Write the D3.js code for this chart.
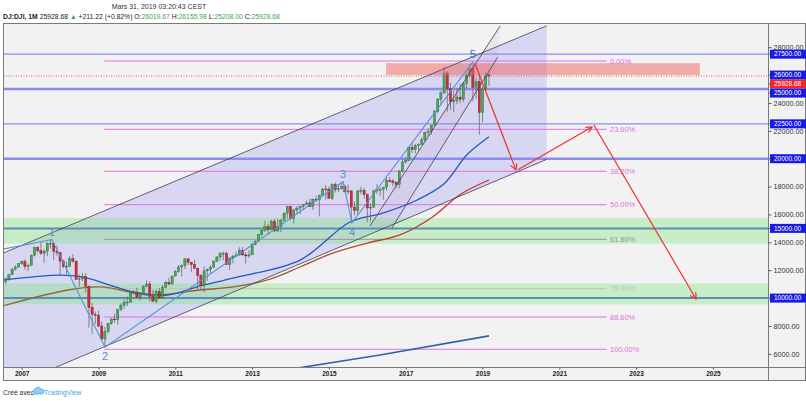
<!DOCTYPE html>
<html>
<head>
<meta charset="utf-8">
<script src="https://cdn.jsdelivr.net/npm/d3@7"></script>
<style>
  body { margin: 0; background: #fff; }
  svg { display: block; font-family: "Liberation Sans", Arial, sans-serif; }
</style>
</head>
<body>
<svg id="chart"></svg>
<script>
// DJ:DJI monthly candles, Jul 2006 .. Mar 2019
var firstBar = 2006.5;
var opens = [
  11150, 11186, 11381, 11679, 12081, 12222,
  12463, 12622, 12269, 12354, 13063, 13628, 13409, 13212, 13358, 13896, 13930, 13372,
  13265, 12650, 12266, 12263, 12820, 12638, 11350, 11378, 11544, 10851, 9325, 8829,
  8776, 8001, 7063, 7609, 8168, 8500, 8447, 9172, 9496, 9712, 9713, 10345,
  10428, 10067, 10325, 10857, 11009, 10137, 9774, 10466, 10015, 10788, 11118, 11006,
  11578, 11892, 12226, 12320, 12811, 12570, 12414, 12143, 11614, 10913, 11955, 12046,
  12218, 12633, 12952, 13212, 13214, 12393, 12880, 13009, 13091, 13437, 13096, 13026,
  13104, 13861, 14054, 14579, 14840, 15116, 14910, 15500, 14810, 15130, 15546, 16086,
  16577, 15699, 16322, 16458, 16581, 16717, 16827, 16563, 17098, 17043, 17391, 17828,
  17823, 17165, 18133, 17776, 17841, 18011, 17620, 17690, 16528, 16285, 17664, 17720,
  17425, 16466, 16517, 17685, 17774, 17787, 17930, 18432, 18401, 18308, 18142, 19124,
  19763, 19864, 20812, 20663, 20941, 21009, 21350, 21891, 21948, 22405, 23377, 24272,
  24719, 26149, 25029, 24103, 24163, 24416, 24271, 25415, 25965, 26458, 25116, 25538,
  23327, 24999, 26019.67
];
var highs = [
  11260, 11460, 11730, 12160, 12360, 12530,
  12700, 12790, 12480, 13140, 13690, 13700, 14020, 13500, 14000, 14198, 13970, 13780,
  13280, 12770, 12620, 13010, 13140, 12720, 11700, 11810, 11790, 10880, 9650, 9030,
  9090, 8320, 7930, 8220, 8580, 8880, 9190, 9630, 9920, 10120, 10410, 10580,
  10730, 10410, 10910, 11260, 11210, 10600, 10600, 10720, 10950, 11250, 11450, 11620,
  12020, 12390, 12420, 12880, 12880, 12570, 12750, 12160, 11720, 12280, 12130, 12360,
  12720, 13010, 13290, 13340, 13340, 12900, 13110, 13330, 13650, 13660, 13290, 13430,
  13970, 14150, 14590, 14890, 15540, 15340, 15630, 15660, 15710, 15720, 16170, 16590,
  16590, 16400, 16590, 16630, 16740, 16980, 17150, 17150, 17350, 17400, 17900, 18100,
  18000, 18240, 18290, 18180, 18350, 18150, 18140, 17720, 16930, 17800, 17980, 17900,
  17500, 16800, 17790, 18170, 17990, 18000, 18620, 18670, 18540, 18400, 19150, 19990,
  20130, 20850, 21170, 21070, 21110, 21530, 21930, 22180, 22420, 23490, 24330, 24880,
  26617, 26300, 25450, 24860, 25090, 25400, 25460, 26170, 26770, 26951, 25800, 25980,
  25190, 26240, 26155.98
];
var lows = [
  10700, 10990, 11250, 11650, 11990, 12180,
  12380, 12050, 11940, 12340, 12980, 13260, 13100, 12520, 13000, 13570, 12720, 13050,
  11630, 12130, 11730, 12250, 12560, 11290, 10830, 11220, 10370, 7880, 7450, 8120,
  7910, 7020, 6470, 7450, 8090, 8220, 8080, 9060, 9250, 9430, 9680, 10230,
  10030, 9840, 10300, 10800, 9770, 9770, 9610, 9940, 9940, 10710, 10930, 11000,
  11570, 11820, 11550, 12090, 12360, 11860, 12090, 10600, 10600, 10400, 11230, 11740,
  12210, 12630, 12700, 12710, 12390, 12030, 12490, 12990, 13040, 13050, 12470, 12880,
  13100, 13790, 14060, 14440, 14750, 14550, 14910, 14760, 14780, 14720, 15540, 15700,
  15620, 15340, 16020, 16020, 16330, 16680, 16560, 16330, 16910, 15860, 17380, 17070,
  17140, 17040, 17580, 17590, 17790, 17590, 17460, 15370, 15940, 16010, 17450, 17130,
  15450, 15500, 16500, 17480, 17330, 17060, 17710, 18310, 18010, 17880, 17880, 19010,
  19680, 19830, 20410, 20380, 20550, 20990, 21200, 21600, 21710, 22400, 23240, 23920,
  24660, 23360, 23510, 23340, 23930, 23990, 24080, 25040, 25800, 24120, 24270, 21712,
  22640, 24880, 25208
];
var closes = [
  11186, 11381, 11679, 12081, 12222, 12463,
  12622, 12269, 12354, 13063, 13628, 13409, 13212, 13358, 13896, 13930, 13372, 13265,
  12650, 12266, 12263, 12820, 12638, 11350, 11378, 11544, 10851, 9325, 8829, 8776,
  8001, 7063, 7609, 8168, 8500, 8447, 9172, 9496, 9712, 9713, 10345, 10428,
  10067, 10325, 10857, 11009, 10137, 9774, 10466, 10015, 10788, 11118, 11006, 11578,
  11892, 12226, 12320, 12811, 12570, 12414, 12143, 11614, 10913, 11955, 12046, 12218,
  12633, 12952, 13212, 13214, 12393, 12880, 13009, 13091, 13437, 13096, 13026, 13104,
  13861, 14054, 14579, 14840, 15116, 14910, 15500, 14810, 15130, 15546, 16086, 16577,
  15699, 16322, 16458, 16581, 16717, 16827, 16563, 17098, 17043, 17391, 17828, 17823,
  17165, 18133, 17776, 17841, 18011, 17620, 17690, 16528, 16285, 17664, 17720, 17425,
  16466, 16517, 17685, 17774, 17787, 17930, 18432, 18401, 18308, 18142, 19124, 19763,
  19864, 20812, 20663, 20941, 21009, 21350, 21891, 21948, 22405, 23377, 24272, 24719,
  26149, 25029, 24103, 24163, 24416, 24271, 25415, 25965, 26458, 25116, 25538, 23327,
  24999, 25916, 25928.68
];

// moving averages [year, value]
var maBlue = [[2006.5, 11300], [2008.0, 11650], [2008.6, 11500], [2009.9, 10450], [2010.8, 10220],
  [2011.65, 10870], [2012.5, 11440], [2014.25, 12730], [2015.55, 15460], [2016.4, 16100],
  [2017.3, 17040], [2018.0, 18200], [2018.6, 20300], [2019.17, 21580]];
var maBrown = [[2006.5, 9430], [2008.2, 10580], [2009.05, 10800], [2010.35, 10220], [2011.65, 10580],
  [2012.5, 10800], [2013.4, 11300], [2014.25, 12230], [2015.1, 13230], [2016.0, 13950],
  [2016.85, 14530], [2017.7, 15820], [2018.4, 17400], [2019.17, 18470]];
var maLong = [[2014.0, 4900], [2016.33, 5920], [2019.17, 7290]];

// elliott wave [year, value, label]
var wave = [[2006.4, 13450, ""], [2007.79, 14198, "1"], [2009.17, 6470, "2"],
  [2015.37, 18350, "3"], [2015.6, 15400, "4"], [2018.75, 26951, "5"]];

// channels [year, value]
var channelUpper = [[2006.4, 13090], [2020.67, 29530]];
var channelLower = [[2006.4, 3300], [2020.67, 19950]];
var steepUpper = [[2016.07, 15170], [2019.46, 29520]];
var steepLower = [[2016.64, 15030], [2019.40, 27300]];

// projection arrows
var arrows = [
  [[2018.8, 26860], [2019.87, 19200]],
  [[2019.92, 19200], [2021.85, 22270]],
  [[2021.9, 22420], [2024.56, 9940]]
];

// horizontal levels
var violetLevels = [27500, 25000, 22500, 20000];
var violetWidths = [1.2, 2.5, 1.2, 2.5];
var supportLevels = [15000, 10000];
var greenZones = [[15750, 13900], [11050, 9550]];
var fibValues = [27009, 22109, 19096, 16700, 14218, 10674, 8644, 6327];
var fibLabels = ["0.00%", "23.60%", "38.20%", "50.00%", "61.80%", "79.00%", "88.60%", "100.00%"];
var fibColors = ["#e36de3", "#e36de3", "#e36de3", "#e36de3", "#9d8f9d", "#c4c0c4", "#e36de3", "#e36de3"];
var fibRange = [2009.15, 2022.23];
var resistanceBox = [2016.49, 2024.66, 26850, 26000];
var lastPrice = 25928.68;
var priceTags = [27500, 26000, lastPrice, 25000, 22500, 20000, 15000, 10000];

var yTicks = [6000, 8000, 10000, 12000, 14000, 16000, 18000, 20000, 22000, 24000, 26000, 28000];
var yearTicks = [2007, 2009, 2011, 2013, 2015, 2017, 2019, 2021, 2023, 2025];

(function() {
    var W = 806, H = 401;
    var plot = {left: 3.5, top: 23.5, right: 768, bottom: 367.5};

    var svg = d3.select("#chart").attr("width", W).attr("height", H);

    var x = d3.scaleLinear().domain([2007, 2025]).range([21.7, 712.9]);
    var y = d3.scaleLinear().domain([5057, 29735]).range([367, 23]);

    // frame background
    svg.append("rect")
        .attr("x", plot.left).attr("y", plot.top)
        .attr("width", 805.5 - plot.left).attr("height", 380.5 - plot.top)
        .attr("fill", "#f2f2f2");

    var defs = svg.append("defs");
    defs.append("clipPath").attr("id", "clip")
        .append("rect")
        .attr("x", plot.left).attr("y", plot.top)
        .attr("width", plot.right - plot.left).attr("height", plot.bottom - plot.top);

    defs.append("marker")
        .attr("id", "arrow")
        .attr("viewBox", "0 0 8 8")
        .attr("refX", 7).attr("refY", 4)
        .attr("markerWidth", 7).attr("markerHeight", 7)
        .attr("markerUnits", "userSpaceOnUse")
        .attr("orient", "auto")
        .append("path")
        .attr("d", "M0,0 L7,4 L0,8")
        .attr("fill", "none")
        .attr("stroke", "#f03030")
        .attr("stroke-width", 1.4);

    var grad = defs.append("linearGradient")
        .attr("id", "maGrad")
        .attr("gradientUnits", "userSpaceOnUse")
        .attr("x1", 0).attr("x2", 490).attr("y1", 0).attr("y2", 0);
    grad.append("stop").attr("offset", "0%").attr("stop-color", "#8c6a3c");
    grad.append("stop").attr("offset", "55%").attr("stop-color", "#9c5a34");
    grad.append("stop").attr("offset", "100%").attr("stop-color", "#d42a2a");

    var g = svg.append("g").attr("clip-path", "url(#clip)");

    var line = d3.line().x((d) => x(d[0])).y((d) => y(d[1]));

    // big channel fill
    var channelPoly = channelUpper.concat(channelLower.slice().reverse());
    g.append("path")
        .attr("d", line(channelPoly) + "Z")
        .attr("fill", "rgba(140,140,240,0.26)");

    // green zones
    greenZones.forEach(function(z) {
        g.append("rect")
            .attr("x", plot.left).attr("width", plot.right - plot.left)
            .attr("y", y(z[0])).attr("height", y(z[1]) - y(z[0]))
            .attr("fill", "rgba(120,230,120,0.35)");
    });

    // steep channel fill
    var steepPoly = steepUpper.concat(steepLower.slice().reverse());
    g.append("path")
        .attr("d", line(steepPoly) + "Z")
        .attr("fill", "rgba(200,140,200,0.12)");

    // violet levels
    violetLevels.forEach(function(v, i) {
        g.append("line")
            .attr("x1", plot.left).attr("x2", plot.right)
            .attr("y1", y(v)).attr("y2", y(v))
            .attr("stroke", "#8a8cf2")
            .attr("stroke-width", violetWidths[i]);
    });

    // support levels
    supportLevels.forEach(function(v) {
        g.append("line")
            .attr("x1", plot.left).attr("x2", plot.right)
            .attr("y1", y(v)).attr("y2", y(v))
            .attr("stroke", "#5b8db8")
            .attr("stroke-width", 2);
    });

    // fibonacci
    fibValues.forEach(function(v, i) {
        g.append("line")
            .attr("x1", x(fibRange[0])).attr("x2", x(fibRange[1]))
            .attr("y1", y(v)).attr("y2", y(v))
            .attr("stroke", fibColors[i])
            .attr("stroke-width", 1);
        g.append("text")
            .attr("x", x(fibRange[1]) + 3.5)
            .attr("y", y(v))
            .attr("dy", "0.35em")
            .attr("font-size", 7.4)
            .attr("fill", fibColors[i])
            .text(fibLabels[i]);
    });

    // moving averages
    var curve = d3.line().curve(d3.curveCatmullRom)
        .x((d) => x(d[0])).y((d) => y(d[1]));
    g.append("path").attr("d", curve(maBrown))
        .attr("fill", "none").attr("stroke", "url(#maGrad)").attr("stroke-width", 1.3);
    g.append("path").attr("d", curve(maBlue))
        .attr("fill", "none").attr("stroke", "#2456c4").attr("stroke-width", 1.3);
    g.append("path").attr("d", line(maLong))
        .attr("fill", "none").attr("stroke", "#2f62a8").attr("stroke-width", 1.6);

    // candles
    var bars = closes.map(function(c, i) {
        return {t: firstBar + i / 12, o: opens[i], h: highs[i], l: lows[i], c: c};
    });
    var candle = g.append("g").selectAll("g").data(bars).enter().append("g");
    candle.append("line")
        .attr("x1", (d) => x(d.t)).attr("x2", (d) => x(d.t))
        .attr("y1", (d) => y(d.h)).attr("y2", (d) => y(d.l))
        .attr("stroke", "#6a6a6a").attr("stroke-width", 0.8);
    candle.append("rect")
        .attr("x", (d) => x(d.t) - 1.1)
        .attr("width", 2.2)
        .attr("y", (d) => y(Math.max(d.o, d.c)))
        .attr("height", (d) => Math.max(0.8, Math.abs(y(d.o) - y(d.c))))
        .attr("fill", (d) => d.c >= d.o ? "#46a84f" : "#d02b3a")
        .attr("stroke", (d) => d.c >= d.o ? "#2a6a32" : "#7a1c24")
        .attr("stroke-width", 0.4);

    // resistance box
    g.append("rect")
        .attr("x", x(resistanceBox[0]))
        .attr("width", x(resistanceBox[1]) - x(resistanceBox[0]))
        .attr("y", y(resistanceBox[2]))
        .attr("height", y(resistanceBox[3]) - y(resistanceBox[2]))
        .attr("fill", "rgba(240,100,100,0.5)");

    // last price line
    g.append("line")
        .attr("x1", plot.left).attr("x2", plot.right)
        .attr("y1", y(lastPrice)).attr("y2", y(lastPrice))
        .attr("stroke", "#e03a3a").attr("stroke-width", 0.8)
        .attr("stroke-dasharray", "1,1.5");

    // channel lines
    [channelUpper, channelLower, steepUpper, steepLower].forEach(function(c) {
        g.append("path").attr("d", line(c))
            .attr("fill", "none").attr("stroke", "#3c3c4c").attr("stroke-width", 0.8);
    });

    // wave
    g.append("path").attr("d", line(wave))
        .attr("fill", "none").attr("stroke", "#5a90d6").attr("stroke-width", 1.1);
    wave.filter((d) => d[2] !== "").forEach(function(d) {
        var up = d[2] === "1" || d[2] === "3" || d[2] === "5";
        g.append("text")
            .attr("x", x(d[0]))
            .attr("y", y(d[1]) + (up ? -4 : 13))
            .attr("text-anchor", "middle")
            .attr("font-size", 11)
            .attr("fill", d[2] === "5" ? "#3a6cd8" : "#5a8fcc")
            .text(d[2]);
    });

    // arrows
    arrows.forEach(function(a) {
        g.append("path").attr("d", line(a))
            .attr("fill", "none").attr("stroke", "#f03030").attr("stroke-width", 1.2)
            .attr("marker-end", "url(#arrow)");
    });

    // frame lines
    var frame = svg.append("g").attr("stroke", "#7a7a7a").attr("stroke-width", 1).attr("fill", "none");
    frame.append("rect").attr("x", plot.left).attr("y", plot.top)
        .attr("width", 805.5 - plot.left).attr("height", 380.5 - plot.top);
    frame.append("line").attr("x1", plot.right + 0.5).attr("x2", plot.right + 0.5)
        .attr("y1", plot.top).attr("y2", 380.5);
    frame.append("line").attr("x1", plot.left).attr("x2", 805.5)
        .attr("y1", plot.bottom).attr("y2", plot.bottom);

    // price tags on the right axis (pushed apart like the platform does)
    var tags = priceTags.map(function(v) {
        return {v: v, y: y(v), red: v === lastPrice};
    });
    tags.sort((a, b) => a.y - b.y);
    for (var i = 1; i < tags.length; i++) {
        if (tags[i].y < tags[i - 1].y + 9) tags[i].y = tags[i - 1].y + 9;
    }

    // Y axis: ticks hidden under a tag are left out
    var freeTicks = yTicks.filter(function(v) {
        return tags.every((t) => Math.abs(t.y - y(v)) > 6);
    });
    var yAxis = svg.append("g")
        .attr("transform", "translate(" + (plot.right + 0.5) + ",0)")
        .call(d3.axisRight(y).tickValues(freeTicks).tickFormat(d3.format(".2f")).tickSize(3).tickPadding(2));
    yAxis.select(".domain").remove();
    yAxis.selectAll("line").attr("stroke", "#555");
    yAxis.selectAll("text").attr("font-size", 7.2).attr("fill", "#333")
        .attr("font-family", "Liberation Sans, Arial, sans-serif");

    // X axis
    var xAxis = svg.append("g")
        .attr("transform", "translate(0," + plot.bottom + ")")
        .call(d3.axisBottom(x).tickValues(yearTicks).tickFormat(d3.format("d")).tickSize(2).tickPadding(2));
    xAxis.select(".domain").remove();
    xAxis.selectAll("line").attr("stroke", "#555");
    xAxis.selectAll("text").attr("font-size", 6.5).attr("font-weight", "bold").attr("fill", "#222")
        .attr("font-family", "Liberation Sans, Arial, sans-serif");

    var tag = svg.append("g").selectAll("g").data(tags).enter().append("g")
        .attr("transform", (d) => "translate(" + (plot.right + 1) + "," + d.y + ")");
    tag.append("line")
        .attr("x1", 0).attr("x2", 3).attr("y1", 0).attr("y2", 0)
        .attr("stroke", "#555");
    tag.append("rect")
        .attr("x", 1).attr("y", -4.5).attr("width", 37).attr("height", 9)
        .attr("fill", (d) => d.red ? "#f0262f" : "#1a1ae6");
    tag.append("text")
        .attr("x", 5).attr("dy", "0.35em")
        .attr("font-size", 6.5).attr("fill", "#fff")
        .text((d) => d3.format(".2f")(d.v));

    // header
    svg.append("text")
        .attr("x", 159).attr("y", 9)
        .attr("text-anchor", "middle")
        .attr("font-size", 7).attr("fill", "#333")
        .text("Mars 31, 2019 03:20:43 CEST");

    var green = "#3aa84a";
    var head = svg.append("text").attr("x", 3).attr("y", 18.5).attr("font-size", 6.8).attr("fill", "#222");
    head.append("tspan").attr("font-weight", "bold").text("DJ:DJI, 1M ");
    head.append("tspan").text("25928.68 ");
    head.append("tspan").attr("fill", green).text("▲");
    head.append("tspan").text(" +211.22 (+0.82%) O:");
    head.append("tspan").attr("fill", green).text("26019.67");
    head.append("tspan").text(" H:");
    head.append("tspan").attr("fill", green).text("26155.98");
    head.append("tspan").text(" L:");
    head.append("tspan").attr("fill", green).text("25208.00");
    head.append("tspan").text(" C:");
    head.append("tspan").attr("fill", green).text("25928.68");

    // footer
    svg.append("text")
        .attr("x", 3).attr("y", 395)
        .attr("font-size", 6.8).attr("fill", "#333")
        .text("Créé avec");
    svg.append("path")
        .attr("d", "M34,394 a3,3 0 0 1 1,-5 a3.5,3.5 0 0 1 6,0 a2.5,2.5 0 0 1 1,5 Z")
        .attr("fill", "#8fd0f0").attr("stroke", "#3ea6e0").attr("stroke-width", 0.7);
    svg.append("text")
        .attr("x", 44).attr("y", 395)
        .attr("font-size", 6.8).attr("fill", "#3ea6e0")
        .text("TradingView");
})();
</script>
</body>
</html>
